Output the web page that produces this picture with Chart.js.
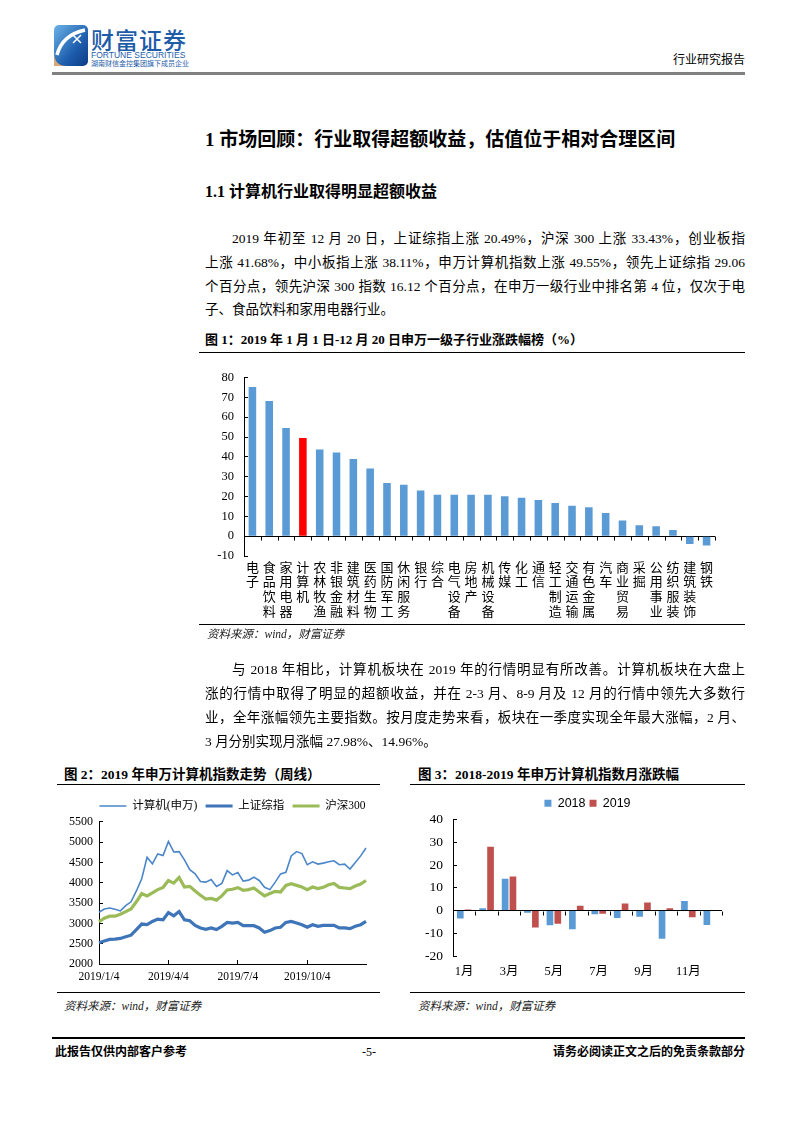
<!DOCTYPE html>
<html>
<head>
<meta charset="utf-8">
<script src="https://cdn.jsdelivr.net/npm/chart.js@4.4.1/dist/chart.umd.min.js"></script>
<style>
  body { margin: 0; width: 802px; height: 1133px; position: relative; background: #fff; overflow: hidden;
         font-family: "Liberation Serif", "Noto Sans CJK SC", serif; color: #000; }
  .t { position: absolute; white-space: nowrap; }
  .b { font-weight: bold; }
  .pl { position: absolute; white-space: nowrap; font-size: 13.5px; height: 24px; line-height: 24px;
        text-align: justify; text-align-last: justify; }
  .pe { position: absolute; white-space: nowrap; font-size: 13.5px; height: 24px; line-height: 24px; }
  .rule { position: absolute; background: #000; height: 1px; }
  .src { font-style: italic; font-size: 11.5px; line-height: 16px; color: #222; }
  canvas { position: absolute; }
</style>
</head>
<body>

<!-- header -->
<svg style="position:absolute;left:54px;top:25px" width="34" height="41" viewBox="0 0 34 41">
  <defs>
    <linearGradient id="lg" x1="0" y1="0" x2="1" y2="1">
      <stop offset="0" stop-color="#6db3e8"/>
      <stop offset="0.6" stop-color="#1f5fae"/>
      <stop offset="1" stop-color="#0b3b86"/>
    </linearGradient>
  </defs>
  <rect x="0" y="0" width="34" height="41" rx="5" fill="url(#lg)"/>
  <path d="M0 27 Q0 41 13 41 L0 41 Z" fill="#d8a878"/>
  <path d="M3 30 Q8 10 31 5" stroke="#fff" stroke-width="3.5" fill="none"/>
  <path d="M19 10 L27 18 M27 10 L19 18" stroke="#fff" stroke-width="1.5"/>
</svg>
<div class="t" style="left:91px;top:26px;font-size:23px;line-height:26px;color:#1e5ca8;font-family:'Noto Sans CJK SC';font-weight:500;letter-spacing:1px">财富证券</div>
<div class="t" style="left:91px;top:50px;font-size:8.5px;line-height:10px;color:#1e5ca8;font-family:'Liberation Sans'">FORTUNE SECURITIES</div>
<div class="t" style="left:91px;top:59px;font-size:7px;line-height:9px;color:#1e5ca8;font-family:'Noto Sans CJK SC'">湖南财信金控集团旗下成员企业</div>
<div class="t" style="right:57px;top:52px;font-size:12px;line-height:16px">行业研究报告</div>
<div style="position:absolute;left:52px;top:72px;width:693px;height:3px;background:#808080"></div>

<!-- headings and first paragraph -->
<div class="t b" style="left:205px;top:128px;font-size:19px;line-height:24px">1 市场回顾：行业取得超额收益，估值位于相对合理区间</div>
<div class="t b" style="left:205px;top:181px;font-size:16px;line-height:22px">1.1 计算机行业取得明显超额收益</div>

<div class="pl" style="left:232px;top:227px;width:513px">2019 年初至 12 月 20 日，上证综指上涨 20.49%，沪深 300 上涨 33.43%，创业板指</div>
<div class="pl" style="left:205px;top:251px;width:540px">上涨 41.68%，中小板指上涨 38.11%，申万计算机指数上涨 49.55%，领先上证综指 29.06</div>
<div class="pl" style="left:205px;top:275px;width:540px">个百分点，领先沪深 300 指数 16.12 个百分点，在申万一级行业中排名第 4 位，仅次于电</div>
<div class="pe" style="left:205px;top:298px">子、食品饮料和家用电器行业。</div>

<!-- figure 1 -->
<div class="t b" style="left:205px;top:331px;font-size:13px;line-height:18px">图 1：2019 年 1 月 1 日-12 月 20 日申万一级子行业涨跌幅榜（%）</div>
<div class="rule" style="left:199px;top:352px;width:546px"></div>
<canvas id="c1" width="545" height="270" style="left:200px;top:356px"></canvas>
<div class="rule" style="left:199px;top:624px;width:546px"></div>
<div class="t src" style="left:207px;top:626px">资料来源：wind，财富证券</div>

<!-- second paragraph -->
<div class="pl" style="left:232px;top:658px;width:513px">与 2018 年相比，计算机板块在 2019 年的行情明显有所改善。计算机板块在大盘上</div>
<div class="pl" style="left:205px;top:682px;width:540px">涨的行情中取得了明显的超额收益，并在 2-3 月、8-9 月及 12 月的行情中领先大多数行</div>
<div class="pl" style="left:205px;top:706px;width:540px">业，全年涨幅领先主要指数。按月度走势来看，板块在一季度实现全年最大涨幅，2 月、</div>
<div class="pe" style="left:205px;top:730px">3 月分别实现月涨幅 27.98%、14.96%。</div>

<!-- figure 2 -->
<div class="t b" style="left:64px;top:766px;font-size:13.5px;line-height:18px">图 2：2019 年申万计算机指数走势（周线）</div>
<div class="rule" style="left:57px;top:784px;width:323px"></div>
<canvas id="c2" width="330" height="196" style="left:50px;top:790px"></canvas>
<div class="rule" style="left:57px;top:992px;width:323px"></div>
<div class="t src" style="left:64px;top:998px">资料来源：wind，财富证券</div>

<!-- figure 3 -->
<div class="t b" style="left:418px;top:766px;font-size:13.5px;line-height:18px">图 3：2018-2019 年申万计算机指数月涨跌幅</div>
<div class="rule" style="left:410px;top:784px;width:335px"></div>
<canvas id="c3" width="332" height="194" style="left:413px;top:792px"></canvas>
<div class="rule" style="left:410px;top:992px;width:335px"></div>
<div class="t src" style="left:418px;top:998px">资料来源：wind，财富证券</div>

<!-- footer -->
<div style="position:absolute;left:52px;top:1037px;width:693px;height:2px;background:#000"></div>
<div class="t b" style="left:55px;top:1044px;font-size:12px;line-height:16px">此报告仅供内部客户参考</div>
<div class="t" style="left:362px;top:1044px;font-size:12px;line-height:16px">-5-</div>
<div class="t b" style="right:57px;top:1044px;font-size:12px;line-height:16px">请务必阅读正文之后的免责条款部分</div>

<script>
// ---- data ----
const industries = ['电子','食品饮料','家用电器','计算机','农林牧渔','非银金融','建筑材料','医药生物','国防军工','休闲服务',
  '银行','综合','电气设备','房地产','机械设备','传媒','化工','通信','轻工制造','交通运输',
  '有色金属','汽车','商业贸易','采掘','公用事业','纺织服装','建筑装饰','钢铁'];
const industryChange = [75.2, 68.1, 54.5, 49.55, 43.7, 42.2, 38.9, 34.1, 26.8, 25.9,
  23.0, 20.9, 20.9, 20.9, 20.9, 20.1, 19.4, 18.2, 16.7, 15.3,
  14.6, 11.7, 7.9, 5.5, 5.0, 3.1, -4.0, -4.7];

const weeks = ['1/4','1/11','1/18','1/25','2/1','2/8','2/15','2/22','3/1','3/8','3/15','3/22','3/29',
  '4/5','4/12','4/19','4/26','5/3','5/10','5/17','5/24','5/31','6/7','6/14','6/21','6/28',
  '7/5','7/12','7/19','7/26','8/2','8/9','8/16','8/23','8/30','9/6','9/13','9/20','9/27',
  '10/4','10/11','10/18','10/25','11/1','11/8','11/15','11/22','11/29','12/6','12/13','12/20'];
const computerIdx = [3274, 3354, 3378, 3346, 3306, 3435, 3531, 3797, 4096, 4628, 4466, 4708, 4668,
  5014, 4757, 4765, 4563, 4321, 4217, 4031, 4015, 4080, 3910, 3983, 4297, 4192,
  4249, 4039, 4063, 4136, 4055, 3886, 3830, 4015, 4217, 4257, 4660, 4765, 4717,
  4442, 4515, 4458, 4482, 4515, 4539, 4442, 4458, 4337, 4499, 4660, 4853];
const shComposite = [2524, 2564, 2605, 2613, 2629, 2669, 2709, 2846, 2983, 2967, 3048, 3104, 3088,
  3265, 3185, 3290, 3088, 3064, 2951, 2887, 2854, 2887, 2846, 2927, 3024, 3007,
  3024, 2943, 2943, 2943, 2887, 2782, 2822, 2887, 2903, 3024, 3048, 3007, 2967,
  2903, 2967, 2927, 2951, 2951, 2951, 2887, 2887, 2870, 2927, 2967, 3048];
const hs300 = [3040, 3128, 3177, 3177, 3225, 3290, 3354, 3531, 3733, 3676, 3749, 3830, 3886,
  4055, 3991, 4128, 3894, 3910, 3797, 3693, 3596, 3612, 3572, 3676, 3822, 3838,
  3878, 3814, 3830, 3870, 3773, 3676, 3733, 3789, 3773, 3934, 3975, 3934, 3894,
  3830, 3894, 3854, 3886, 3951, 3983, 3886, 3870, 3854, 3918, 3967, 4055];
const weekTickIdx = [0, 13, 26, 39];
const weekTickLabels = ['2019/1/4', '2019/4/4', '2019/7/4', '2019/10/4'];

const months = ['1月','2月','3月','4月','5月','6月','7月','8月','9月','10月','11月','12月'];
const chg2018 = [-3.5, 1.0, 14.0, -1.0, -6.5, -8.2, -1.6, -3.3, -2.8, -12.4, 4.2, -6.4];
const chg2019 = [0.4, 27.98, 14.96, -7.5, -5.8, 2.1, -1.4, 3.1, 3.5, 1.0, -3.0, null];

// ---- shared settings ----
Chart.defaults.font.family = '"Liberation Serif", "Noto Sans CJK SC", serif';
Chart.defaults.color = '#000';
Chart.defaults.animation = false;
Chart.defaults.responsive = false;
Chart.defaults.plugins.tooltip.enabled = false;

const zeroOnly = ctx => (ctx.tick && ctx.tick.value === 0) ? '#000' : 'rgba(0,0,0,0)';

// small tick marks under the zero line, at the category borders
const zeroTicks = {
  id: 'zeroTicks',
  afterDatasetsDraw(chart) {
    const xs = chart.scales.x, ys = chart.scales.y, ctx = chart.ctx;
    const y0 = Math.round(ys.getPixelForValue(0)) + 0.5;
    const n = chart.data.labels.length;
    const step = (xs.right - xs.left) / n;
    ctx.save();
    ctx.strokeStyle = '#000';
    ctx.lineWidth = 1;
    ctx.beginPath();
    for (let i = 1; i <= n; i++) {
      const px = Math.round(xs.left + i * step) + 0.5;
      ctx.moveTo(px, y0);
      ctx.lineTo(px, y0 + 4);
    }
    ctx.stroke();
    ctx.restore();
  }
};

// put the legend row over the middle of the plot area, like Excel does
const centerLegend = {
  id: 'centerLegend',
  afterLayout(chart) {
    const l = chart.legend, a = chart.chartArea;
    if (!l) return;
    const off = (a.left + a.right) / 2 - (l.left + l.right) / 2;
    l.left += off;
    l.right += off;
  }
};

// ---- figure 1 ----
new Chart(document.getElementById('c1'), {
  type: 'bar',
  data: {
    labels: industries.map(s => s.split('')),
    datasets: [{
      data: industryChange,
      backgroundColor: industries.map(s => s === '计算机' ? '#FF0000' : '#5B9BD5'),
      barPercentage: 0.45,
      categoryPercentage: 1
    }]
  },
  options: {
    layout: { padding: { top: 12, right: 30, left: 0, bottom: 0 } },
    plugins: { legend: { display: false } },
    scales: {
      x: {
        grid: { display: false, drawTicks: false },
        border: { display: false },
        ticks: { autoSkip: false, maxRotation: 0, minRotation: 0, padding: 5,
                 font: { size: 13, lineHeight: 1.13 } },
        afterFit: s => { s.height = 70; }
      },
      y: {
        min: -10, max: 80,
        ticks: { stepSize: 10, padding: 14, font: { size: 12.5 } },
        grid: { color: zeroOnly, tickColor: '#000', tickLength: -4 },
        border: { color: '#000' },
        afterFit: s => { s.width = 44; }
      }
    }
  },
  plugins: [zeroTicks]
});

// ---- figure 2 ----
new Chart(document.getElementById('c2'), {
  type: 'line',
  data: {
    labels: weeks,
    datasets: [
      { label: '计算机(申万)', data: computerIdx, borderColor: '#4A86C8', borderWidth: 1.6,
        pointRadius: 0, pointBorderWidth: 1.6, pointBorderColor: '#4A86C8' },
      { label: '上证综指', data: shComposite, borderColor: '#3E74B8', borderWidth: 3.2,
        pointRadius: 0, pointBorderWidth: 3.2, pointBorderColor: '#3E74B8' },
      { label: '沪深300', data: hs300, borderColor: '#9BBB59', borderWidth: 3.2,
        pointRadius: 0, pointBorderWidth: 3.2, pointBorderColor: '#9BBB59' }
    ]
  },
  options: {
    layout: { padding: { top: 2, left: 0, right: 14, bottom: 0 } },
    plugins: {
      legend: {
        labels: { usePointStyle: true, pointStyle: 'line', pointStyleWidth: 27,
                  padding: 8.25, font: { size: 11.5 } }
      }
    },
    scales: {
      x: {
        afterBuildTicks: s => { s.ticks = weekTickIdx.map(v => ({ value: v })); },
        ticks: { autoSkip: false, maxRotation: 0, padding: 10, font: { size: 11.5 },
                 callback: (v, i) => weekTickLabels[i] },
        grid: { drawOnChartArea: false, tickLength: -4, tickColor: '#000' },
        border: { color: '#000' },
        afterFit: s => { s.height = 22; }
      },
      y: {
        min: 2000, max: 5500,
        ticks: { stepSize: 500, padding: 10, font: { size: 12 }, callback: v => String(v) },
        grid: { drawOnChartArea: false, tickLength: -4, tickColor: '#000' },
        border: { color: '#000' },
        afterFit: s => { s.width = 49; }
      }
    }
  },
  plugins: [centerLegend]
});

// ---- figure 3 ----
new Chart(document.getElementById('c3'), {
  type: 'bar',
  data: {
    labels: months,
    datasets: [
      { label: '2018', data: chg2018, backgroundColor: '#5B9BD5' },
      { label: '2019', data: chg2019, backgroundColor: '#C0504D' }
    ]
  },
  options: {
    datasets: { bar: { categoryPercentage: 0.7, barPercentage: 0.85 } },
    layout: { padding: { top: 1, left: 0, right: 23, bottom: 0 } },
    plugins: {
      legend: {
        labels: { boxWidth: 7, boxHeight: 7, padding: 4,
                  font: { family: '"Liberation Sans", Arial, sans-serif', size: 12.5 } }
      }
    },
    scales: {
      x: {
        grid: { display: false, drawTicks: false },
        border: { display: false },
        ticks: { autoSkip: false, maxRotation: 0, padding: 8.5, font: { size: 12.5 },
                 callback: (v, i) => i % 2 === 0 ? months[i] : '' },
        afterFit: s => { s.height = 30; }
      },
      y: {
        min: -20, max: 40,
        ticks: { stepSize: 10, padding: 14, font: { size: 13.5 } },
        grid: { color: zeroOnly, tickColor: '#000', tickLength: -4 },
        border: { color: '#000' },
        afterFit: s => { s.width = 40; }
      }
    }
  },
  plugins: [zeroTicks, centerLegend]
});
</script>
</body>
</html>
